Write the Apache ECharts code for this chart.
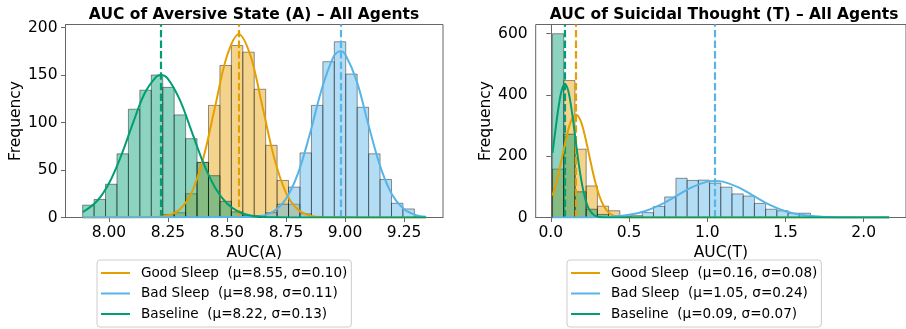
<!DOCTYPE html>
<html>
<head>
<meta charset="utf-8">
<script src="https://cdn.jsdelivr.net/npm/echarts@6/dist/echarts.min.js"></script>
<style>
  html, body { margin: 0; padding: 0; background: #fff; }
  #chart { width: 906px; height: 329px; }
</style>
</head>
<body>
<div id="chart"></div>
<script>
// ---- data ----
const groups = ['Good Sleep', 'Bad Sleep', 'Baseline']
const colors = ['#E69F00', '#56B4E9', '#009E73']

// panel A: AUC of aversive state, 30 shared bins
const aBinStart = 7.889, aBinWidth = 0.04843
const aGoodCounts = [0, 0, 0, 0, 0, 0, 1, 3, 5, 25, 58, 118, 160, 181, 174, 135, 76, 39, 14, 4, 1, 0, 0, 0, 0, 0, 0, 0, 0, 0]
const aBadCounts  = [0, 0, 0, 0, 0, 0, 0, 0, 0, 0, 0, 0, 0, 0, 0, 2, 5, 14, 32, 68, 118, 164, 185, 151, 116, 67, 40, 15, 9, 1]
const aBaseCounts = [13, 19, 35, 67, 114, 134, 150, 137, 108, 83, 58, 44, 17, 6, 2, 1, 0, 0, 0, 0, 0, 0, 0, 0, 0, 0, 0, 0, 0, 0]
const aMeans = [8.55, 8.98, 8.22]
const aLegend = ['Good Sleep  (μ=8.55, σ=0.10)', 'Bad Sleep  (μ=8.98, σ=0.11)', 'Baseline  (μ=8.22, σ=0.13)']
// fitted curves
const aGoodX = [7.889, 8.20, 8.25, 8.30, 8.35, 8.40, 8.45, 8.50, 8.55, 8.60, 8.65, 8.70, 8.75, 8.80, 8.85, 8.90, 9.342]
const aGoodY = [0, 0.4, 2.1, 8.5, 26, 62.7, 117, 170, 193, 170, 117, 62.7, 26, 8.5, 2.1, 0.4, 0]
const aBadX = [7.889, 8.60, 8.65, 8.70, 8.75, 8.80, 8.85, 8.90, 8.95, 8.98, 9.00, 9.05, 9.10, 9.15, 9.20, 9.25, 9.30, 9.342]
const aBadY = [0, 0.45, 1.9, 6.9, 19.7, 45.9, 87, 134, 168.6, 175, 172, 143, 96.5, 53, 23.7, 8.6, 2.5, 0.8]
const aBaseX = [7.889, 7.95, 8.00, 8.05, 8.10, 8.15, 8.20, 8.22, 8.25, 8.30, 8.35, 8.40, 8.45, 8.50, 8.55, 8.60, 8.65, 8.70, 8.80, 9.342]
const aBaseY = [5.5, 17.4, 35.8, 63.8, 98, 130, 148, 150, 146, 124, 91, 57.5, 31.4, 14.7, 6, 2.1, 0.6, 0.15, 0, 0]
const aXTicks = [8.00, 8.25, 8.50, 8.75, 9.00, 9.25]
const aYTicks = [0, 50, 100, 150, 200]

// panel T: AUC of suicidal thought, 30 shared bins
const tBinStart = 0.011, tBinWidth = 0.0717
const tGoodCounts = [158, 447, 223, 103, 37, 22, 5, 2, 0, 0, 0, 0, 0, 0, 0, 0, 0, 0, 0, 0, 0, 0, 0, 0, 0, 0, 0, 0, 0, 0]
const tBadCounts  = [0, 0, 0, 0, 0, 0, 2, 6, 16, 36, 67, 128, 121, 122, 112, 99, 77, 70, 46, 27, 22, 14, 14, 4, 2, 1, 1, 0, 0, 1]
const tBaseCounts = [600, 272, 84, 27, 10, 3, 1, 0, 0, 0, 0, 0, 0, 0, 0, 0, 0, 0, 0, 0, 0, 0, 0, 0, 0, 0, 0, 0, 0, 0]
const tMeans = [0.16, 1.05, 0.09]
const tLegend = ['Good Sleep  (μ=0.16, σ=0.08)', 'Bad Sleep  (μ=1.05, σ=0.24)', 'Baseline  (μ=0.09, σ=0.07)']
const tGoodX = [0.011, 0.04, 0.07, 0.10, 0.13, 0.16, 0.19, 0.22, 0.25, 0.28, 0.31, 0.34, 0.37, 0.40, 0.44, 0.50, 0.55, 2.163]
const tGoodY = [72, 124, 192, 262, 316, 336, 316, 262, 192, 124, 71, 35.7, 15.9, 6.3, 1.5, 0.1, 0, 0]
const tBadX = [0.011, 0.20, 0.30, 0.40, 0.50, 0.60, 0.70, 0.80, 0.90, 1.00, 1.05, 1.10, 1.20, 1.30, 1.40, 1.50, 1.60, 1.70, 1.80, 1.90, 2.00, 2.163]
const tBadY = [0, 0.1, 0.9, 3.1, 8.7, 20.6, 41.3, 69.5, 98.3, 117, 119.5, 117, 98.3, 69.5, 41.3, 20.6, 8.7, 3.1, 0.9, 0.2, 0.05, 0]
const tBaseX = [0.011, 0.03, 0.05, 0.07, 0.09, 0.11, 0.13, 0.15, 0.17, 0.19, 0.21, 0.23, 0.25, 0.28, 0.31, 0.35, 0.40, 2.163]
const tBaseY = [211, 287, 362, 416, 436, 416, 362, 287, 207, 136.5, 82, 44.7, 22.3, 6.6, 1.6, 0.2, 0, 0]
const tXTicks = [0.0, 0.5, 1.0, 1.5, 2.0]
const tYTicks = [0, 200, 400, 600]

// ---- chart ----
const font = 'DejaVu Sans'
const frame = '#666'
const fills = ['rgba(230,159,0,0.45)', 'rgba(86,180,233,0.45)', 'rgba(0,158,115,0.45)']

function histSeries(counts, start, width, fill, idx) {
    const data = []
    counts.forEach(function(c, i) {
        if (c > 0) data.push([start + i * width, start + (i + 1) * width, c])
    })
    return {
        type: 'custom',
        xAxisIndex: idx,
        yAxisIndex: idx,
        silent: true,
        z: 2,
        encode: { x: [0, 1], y: 2 },
        data: data,
        renderItem: function(params, api) {
            const p0 = api.coord([api.value(0), api.value(2)])
            const p1 = api.coord([api.value(1), 0])
            return {
                type: 'rect',
                shape: { x: p0[0], y: p0[1], width: p1[0] - p0[0], height: p1[1] - p0[1] },
                style: { fill: fill, stroke: 'rgba(0,0,0,0.42)', lineWidth: 1 }
            }
        }
    }
}

function curveSeries(name, xs, ys, color, mean, idx) {
    return {
        type: 'line',
        name: name,
        xAxisIndex: idx,
        yAxisIndex: idx,
        data: xs.map(function(x, i) { return [x, ys[i]] }),
        smooth: 0.35,
        showSymbol: false,
        symbol: 'none',
        color: color,
        lineStyle: { width: 2, color: color },
        silent: true,
        z: 5,
        markLine: {
            silent: true,
            symbol: ['none', 'none'],
            label: { show: false },
            lineStyle: { type: [7.4, 3.2], width: 2.2, color: color },
            data: [{ xAxis: mean }]
        }
    }
}

function xAxis(idx, min, max, ticks, digits, name) {
    return {
        type: 'value', gridIndex: idx, min: min, max: max,
        name: name, nameLocation: 'middle', nameGap: 24,
        nameTextStyle: { fontFamily: font, fontSize: 15.5, color: '#000' },
        axisLine: { show: true, lineStyle: { color: frame, width: 1 } },
        axisTick: { show: true, length: 4.5, lineStyle: { color: frame }, customValues: ticks },
        axisLabel: {
            fontFamily: font, fontSize: 15.5, color: '#000', margin: 7,
            customValues: ticks,
            formatter: function(v) { return v.toFixed(digits) }
        },
        splitLine: { show: false }
    }
}

function yAxis(idx, max, ticks) {
    return {
        type: 'value', gridIndex: idx, min: 0, max: max,
        name: 'Frequency', nameLocation: 'middle', nameGap: 35,
        nameTextStyle: { fontFamily: font, fontSize: 15.5, color: '#000' },
        axisLine: { show: true, lineStyle: { color: frame, width: 1 } },
        axisTick: { show: true, length: 4.5, lineStyle: { color: frame }, customValues: ticks },
        axisLabel: {
            fontFamily: font, fontSize: 15.5, color: '#000', margin: 8,
            customValues: ticks,
            formatter: function(v) { return String(v) }
        },
        splitLine: { show: false }
    }
}

function legend(left, names) {
    return {
        orient: 'vertical', left: left, top: 260,
        data: names,
        icon: 'rect', itemWidth: 29, itemHeight: 2, itemGap: 4.5,
        padding: [5, 4, 5, 4],
        borderColor: '#cccccc', borderWidth: 1, borderRadius: 3,
        backgroundColor: 'rgba(255,255,255,0.8)',
        selectedMode: false,
        textStyle: { fontFamily: font, fontSize: 13.6, color: '#000', lineHeight: 16, padding: [0, 0, 0, 6] }
    }
}

const series = []
const aCounts = [aGoodCounts, aBadCounts, aBaseCounts]
const tCounts = [tGoodCounts, tBadCounts, tBaseCounts]
for (let i = 0; i < 3; i++) {
    series.push(histSeries(aCounts[i], aBinStart, aBinWidth, fills[i], 0))
    series.push(histSeries(tCounts[i], tBinStart, tBinWidth, fills[i], 1))
}
const aCurves = [[aGoodX, aGoodY], [aBadX, aBadY], [aBaseX, aBaseY]]
const tCurves = [[tGoodX, tGoodY], [tBadX, tBadY], [tBaseX, tBaseY]]
for (let i = 0; i < 3; i++) {
    series.push(curveSeries(aLegend[i], aCurves[i][0], aCurves[i][1], colors[i], aMeans[i], 0))
    series.push(curveSeries(tLegend[i], tCurves[i][0], tCurves[i][1], colors[i], tMeans[i], 1))
}

const chart = echarts.init(document.getElementById('chart'), null, { renderer: 'canvas' })
chart.setOption({
    animation: false,
    backgroundColor: '#fff',
    graphic: [
        { type: 'text', x: 254, y: 14.5, style: { text: 'AUC of Aversive State (A) – All Agents', font: 'bold 15.5px "DejaVu Sans"', fill: '#000', align: 'center', verticalAlign: 'middle' } },
        { type: 'text', x: 724, y: 14.5, style: { text: 'AUC of Suicidal Thought (T) – All Agents', font: 'bold 15.5px "DejaVu Sans"', fill: '#000', align: 'center', verticalAlign: 'middle' } }
    ],
    grid: [
        { left: 65.5, top: 24.5, width: 377.5, height: 193, show: true, borderColor: frame, borderWidth: 1, backgroundColor: 'transparent' },
        { left: 535.7, top: 24.5, right: -6, height: 193, show: true, borderColor: frame, borderWidth: 1, backgroundColor: 'transparent' }
    ],
    xAxis: [
        xAxis(0, 7.8163, 9.4147, aXTicks, 2, 'AUC(A)'),
        xAxis(1, -0.0966, 2.2706, tXTicks, 1, 'AUC(T)')
    ],
    yAxis: [
        yAxis(0, 203.16, aYTicks),
        yAxis(1, 630, tYTicks)
    ],
    legend: [legend(97, aLegend), legend(567, tLegend)],
    series: series
})
</script>
</body>
</html>
